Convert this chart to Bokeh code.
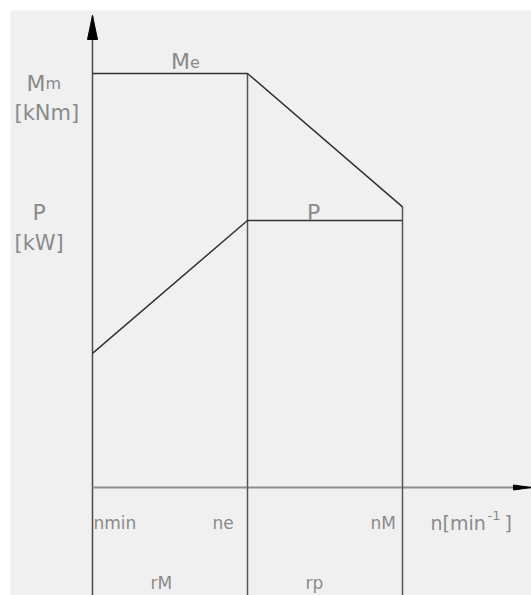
from bokeh.plotting import figure
from bokeh.models import Label
from bokeh.embed import file_html
from bokeh.resources import INLINE

# Characteristic speeds (relative units): n_min, n_e, n_M
speed = [1.0, 2.0, 3.0]
speed_names = ["nmin", "ne", "nM"]
# Torque M: constant up to n_e, then falling towards n_M
torque = [10.0, 10.0, 6.78]
# Power P: rising up to n_e, then constant up to n_M
power = [3.24, 6.45, 6.45]
# Operating ranges: constant torque / constant power
range_names = ["rM", "rp"]

# Drawing scale (pixels per unit) and where the axis origin sits in the frame
PX_PER_N = 155.0
PX_PER_V = 41.4
FRAME_W, FRAME_H = 521, 585
ORIGIN_X_PX, ORIGIN_Y_PX = 82, 477

x0 = speed[0] - ORIGIN_X_PX / PX_PER_N
x1 = x0 + FRAME_W / PX_PER_N
y1 = ORIGIN_Y_PX / PX_PER_V
y0 = y1 - FRAME_H / PX_PER_V

p = figure(width=531, height=595, x_range=(x0, x1), y_range=(y0, y1),
           min_border_left=10, min_border_top=10, min_border_right=0, min_border_bottom=0,
           x_axis_type=None, y_axis_type=None, toolbar_location=None,
           output_backend="svg", background_fill_color="#f0f0f0",
           border_fill_color="white", outline_line_color=None)

AXIS = "#4a4a4a"
CURVE = "#333333"
TEXT = "#8a8a8a"
FONT = "DejaVu Sans"

# vertical axis with arrow head
y_tip = (487 - 15) / PX_PER_V
head_len_y = 24 / PX_PER_V
head_hw_y = 5 / PX_PER_N
p.line([speed[0], speed[0]], [y0, y_tip], line_color=AXIS, line_width=1.5)
p.patch([speed[0] - head_hw_y, speed[0], speed[0] + head_hw_y],
        [y_tip - head_len_y, y_tip, y_tip - head_len_y],
        fill_color="black", line_color="black", line_width=1)

# horizontal speed axis with arrow head
head_len_x = 18 / PX_PER_N
head_hh_x = 2.5 / PX_PER_V
p.line([speed[0], x1], [0, 0], line_color="#8e8e8e", line_width=2)
p.patch([x1 - head_len_x, x1, x1 - head_len_x], [head_hh_x, 0, -head_hh_x],
        fill_color="black", line_color="black", line_width=1)

# verticals at n_e and n_M
for n, m in zip(speed[1:], torque[1:]):
    p.line([n, n], [y0, m], line_color="#555555", line_width=1.5)

# torque and power curves
p.line(speed, torque, line_color=CURVE, line_width=1.5)
p.line(speed, power, line_color=CURVE, line_width=1.5)


def label(text, x, y, dx, dy, size):
    p.add_layout(Label(x=x, y=y, x_offset=dx, y_offset=dy, text=text,
                       text_font=FONT, text_font_size=f"{size}px",
                       text_color=TEXT, text_align="left",
                       text_baseline="alphabetic"))


# axis titles on the left
label("M", speed[0], torque[0], -66, -10, 22)
label("m", speed[0], torque[0], -47, -10, 16)
label("[kNm]", speed[0], torque[0], -78, -39, 21)
label("P", speed[0], power[1], -60, 8, 22)
label("[kW]", speed[0], power[1], -78, -23, 21)

# curve names
mid_low = (speed[0] + speed[1]) / 2
mid_high = (speed[1] + speed[2]) / 2
label("M", mid_low, torque[0], 1, 12, 22)
label("e", mid_low, torque[0], 20, 12, 16)
label("P", mid_high, power[1], -18, 8, 22)

# speed marks under the axis
for name, n, dx in zip(speed_names, speed, [1, -35, -32]):
    label(name, n, 0, dx, -35, 17)
label("n[min", speed[2], 0, 28, -35, 19)
label("-1", speed[2], 0, 85, -28, 13)
label("]", speed[2], 0, 102, -35, 19)

# operating ranges
for name, n in zip(range_names, speed[:2]):
    label(name, n, 0, 58, -95, 17)

open("out.html", "w").write(file_html(p, INLINE))
